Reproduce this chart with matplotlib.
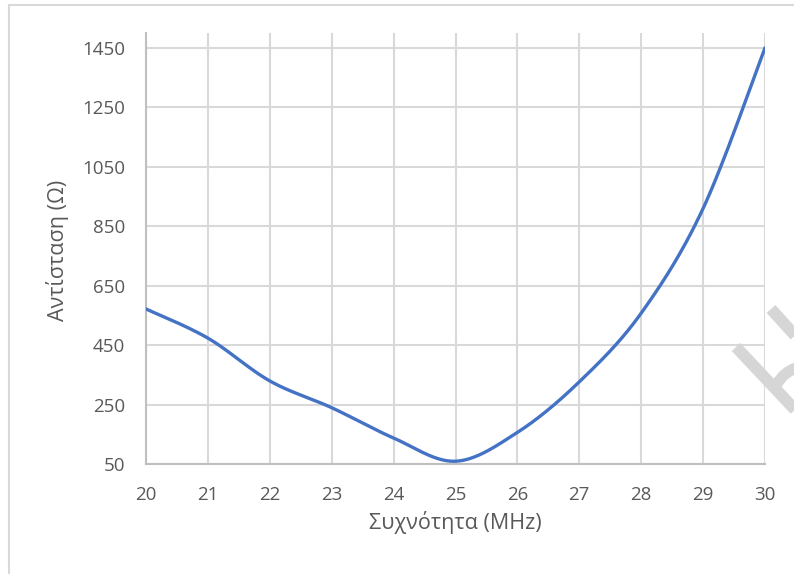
import numpy as np
import matplotlib
matplotlib.use("Agg")
import matplotlib.pyplot as plt
from matplotlib.lines import Line2D
from matplotlib.patches import PathPatch
from matplotlib.path import Path

# Impedance sweep of the antenna
freq_mhz = [20, 21, 22, 23, 24, 25, 26, 27, 28, 29, 30]
resistance_ohm = [572, 474, 330, 240, 138, 60, 157, 327, 558, 910, 1450]

x_ticks = list(range(20, 31))
y_ticks = list(range(50, 1451, 200))

plt.rcParams['font.family'] = ['Open Sans', 'DejaVu Sans']
TEXT = '#595959'
GRID = '#D9D9D9'
LINE = '#4472C4'


def smooth_curve(xs, ys, n=40):
    """Bezier smoothing through every point (Catmull-Rom style tangents)."""
    p = np.column_stack([xs, ys]).astype(float)
    ext = np.vstack([p[0], p, p[-1]])
    out = []
    t = np.linspace(0, 1, n)[:, None]
    for i in range(len(p) - 1):
        p0, p1, p2, p3 = ext[i], ext[i + 1], ext[i + 2], ext[i + 3]
        c1 = p1 + (p2 - p0) / 6.0
        c2 = p2 - (p3 - p1) / 6.0
        seg = ((1 - t) ** 3) * p1 + 3 * ((1 - t) ** 2) * t * c1 \
            + 3 * (1 - t) * t ** 2 * c2 + t ** 3 * p2
        out.append(seg if i == 0 else seg[1:])
    out = np.vstack(out)
    return out[:, 0], out[:, 1]


W, H = 794, 574
fig = plt.figure(figsize=(W / 100, H / 100), dpi=100)
fig.patch.set_facecolor('white')

AX_L, AX_R, AX_T, AX_B = 146, 765, 33, 464.2
ax = fig.add_axes([AX_L / W, 1 - AX_B / H, (AX_R - AX_L) / W, (AX_B - AX_T) / H])
ax.set_xlim(20, 30)
ax.set_ylim(50, 1500)
ax.set_xticks(x_ticks)
ax.set_yticks(y_ticks)
ax.set_xticklabels([str(v) for v in x_ticks])
ax.set_yticklabels([str(v) for v in y_ticks])
ax.tick_params(length=0, labelsize=13.5, colors=TEXT)
ax.tick_params(axis='y', pad=15)
ax.tick_params(axis='x', pad=16)

ax.grid(True, color=GRID, linewidth=1.5)
ax.set_axisbelow(True)
for side in ('top', 'right'):
    ax.spines[side].set_visible(False)
for side in ('left', 'bottom'):
    ax.spines[side].set_color('#BFBFBF')
    ax.spines[side].set_linewidth(1.5)

sx, sy = smooth_curve(freq_mhz, resistance_ohm)
ax.plot(sx, sy, color=LINE, linewidth=2.4, solid_capstyle='round', zorder=3)

ax.set_xlabel('Συχνότητα (MHz)', fontsize=15.5, color=TEXT)
ax.set_ylabel('Αντίσταση (Ω)', fontsize=15.5, color=TEXT)
aw, ah = AX_R - AX_L, AX_B - AX_T
ax.xaxis.set_label_coords((455 - AX_L) / aw, (AX_B - 523) / ah)
ax.xaxis.label.set_va('center')
ax.yaxis.set_label_coords((58 - AX_L) / aw, (AX_B - 250) / ah)
ax.yaxis.label.set_va('center')
ax.yaxis.label.set_ha('center')


def fp(x, y):
    return (x / W, 1 - y / H)


# chart frame
fig.add_artist(Line2D([fp(9, 5)[0], fp(9, 575)[0]], [fp(9, 5)[1], fp(9, 575)[1]],
                      color=GRID, linewidth=1.5, transform=fig.transFigure))
fig.add_artist(Line2D([fp(9, 5)[0], fp(800, 5)[0]], [fp(9, 5)[1], fp(800, 5)[1]],
                      color=GRID, linewidth=1.5, transform=fig.transFigure))

# faint diagonal stamp at the right edge
stamp = '#D6D6D6'
for (x0, y0), (x1, y1) in [((736, 347), (800, 415)), ((771, 309), (800, 341))]:
    a, b = fp(x0, y0), fp(x1, y1)
    fig.add_artist(Line2D([a[0], b[0]], [a[1], b[1]], color=stamp, linewidth=8.5,
                          solid_capstyle='butt', transform=fig.transFigure))
verts = [fp(777, 384), fp(784, 372), fp(796, 368)]
arc = PathPatch(Path(verts, [Path.MOVETO, Path.CURVE3, Path.CURVE3]),
                facecolor='none', edgecolor=stamp, linewidth=8,
                transform=fig.transFigure)
fig.add_artist(arc)

fig.savefig('out.png', dpi=100, facecolor='white')
